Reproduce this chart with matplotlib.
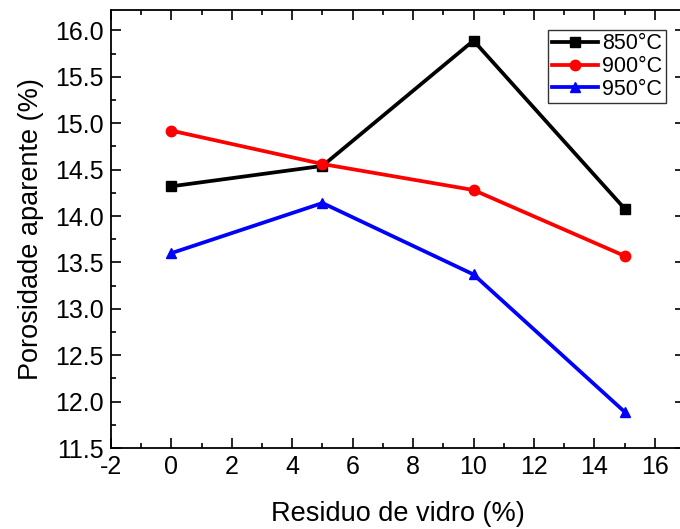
import matplotlib
matplotlib.use('Agg')
import matplotlib.pyplot as plt
from matplotlib.ticker import MultipleLocator, FormatStrFormatter

plt.rcParams['font.family'] = ['Liberation Sans', 'DejaVu Sans']
plt.rcParams['axes.unicode_minus'] = False

residuo = [0, 5, 10, 15]
por_850 = [14.32, 14.54, 15.89, 14.08]
por_900 = [14.92, 14.56, 14.28, 13.57]
por_950 = [13.60, 14.14, 13.37, 11.89]

series = [
    ('850°C', por_850, 'black', 's'),
    ('900°C', por_900, 'red', 'o'),
    ('950°C', por_950, 'blue', '^'),
]

fig = plt.figure(figsize=(6.8, 5.29), dpi=100)
ax = fig.add_axes([111 / 680, 81 / 529, 574 / 680, 438 / 529])

for label, values, color, marker in series:
    ax.plot(residuo, values, color=color, marker=marker, linewidth=2.7,
            markersize=7.5, label=label)

ax.set_xlim(-2, 17)
ax.set_ylim(11.5, 16.22)
ax.xaxis.set_major_locator(MultipleLocator(2))
ax.xaxis.set_minor_locator(MultipleLocator(1))
ax.yaxis.set_major_locator(MultipleLocator(0.5))
ax.yaxis.set_minor_locator(MultipleLocator(0.25))
ax.yaxis.set_major_formatter(FormatStrFormatter('%.1f'))

ax.tick_params(which='both', direction='in', top=True, right=True, width=1.2)
ax.tick_params(which='major', length=7, labelsize=18, pad=5)
ax.tick_params(which='minor', length=3.5)
for spine in ax.spines.values():
    spine.set_linewidth(1.3)

ax.set_xlabel('Residuo de vidro (%)', fontsize=19.5, labelpad=16)
ax.set_ylabel('Porosidade aparente (%)', fontsize=19.5, labelpad=8)

leg = ax.legend(loc='upper left', bbox_to_anchor=(0.762, 0.954), fontsize=15.5,
                frameon=True, fancybox=False, edgecolor='black',
                handlelength=2.15, handletextpad=0.2, borderpad=0.15,
                labelspacing=0.08, borderaxespad=0)
leg.get_frame().set_linewidth(1.0)

fig.savefig('out.png', dpi=100)
